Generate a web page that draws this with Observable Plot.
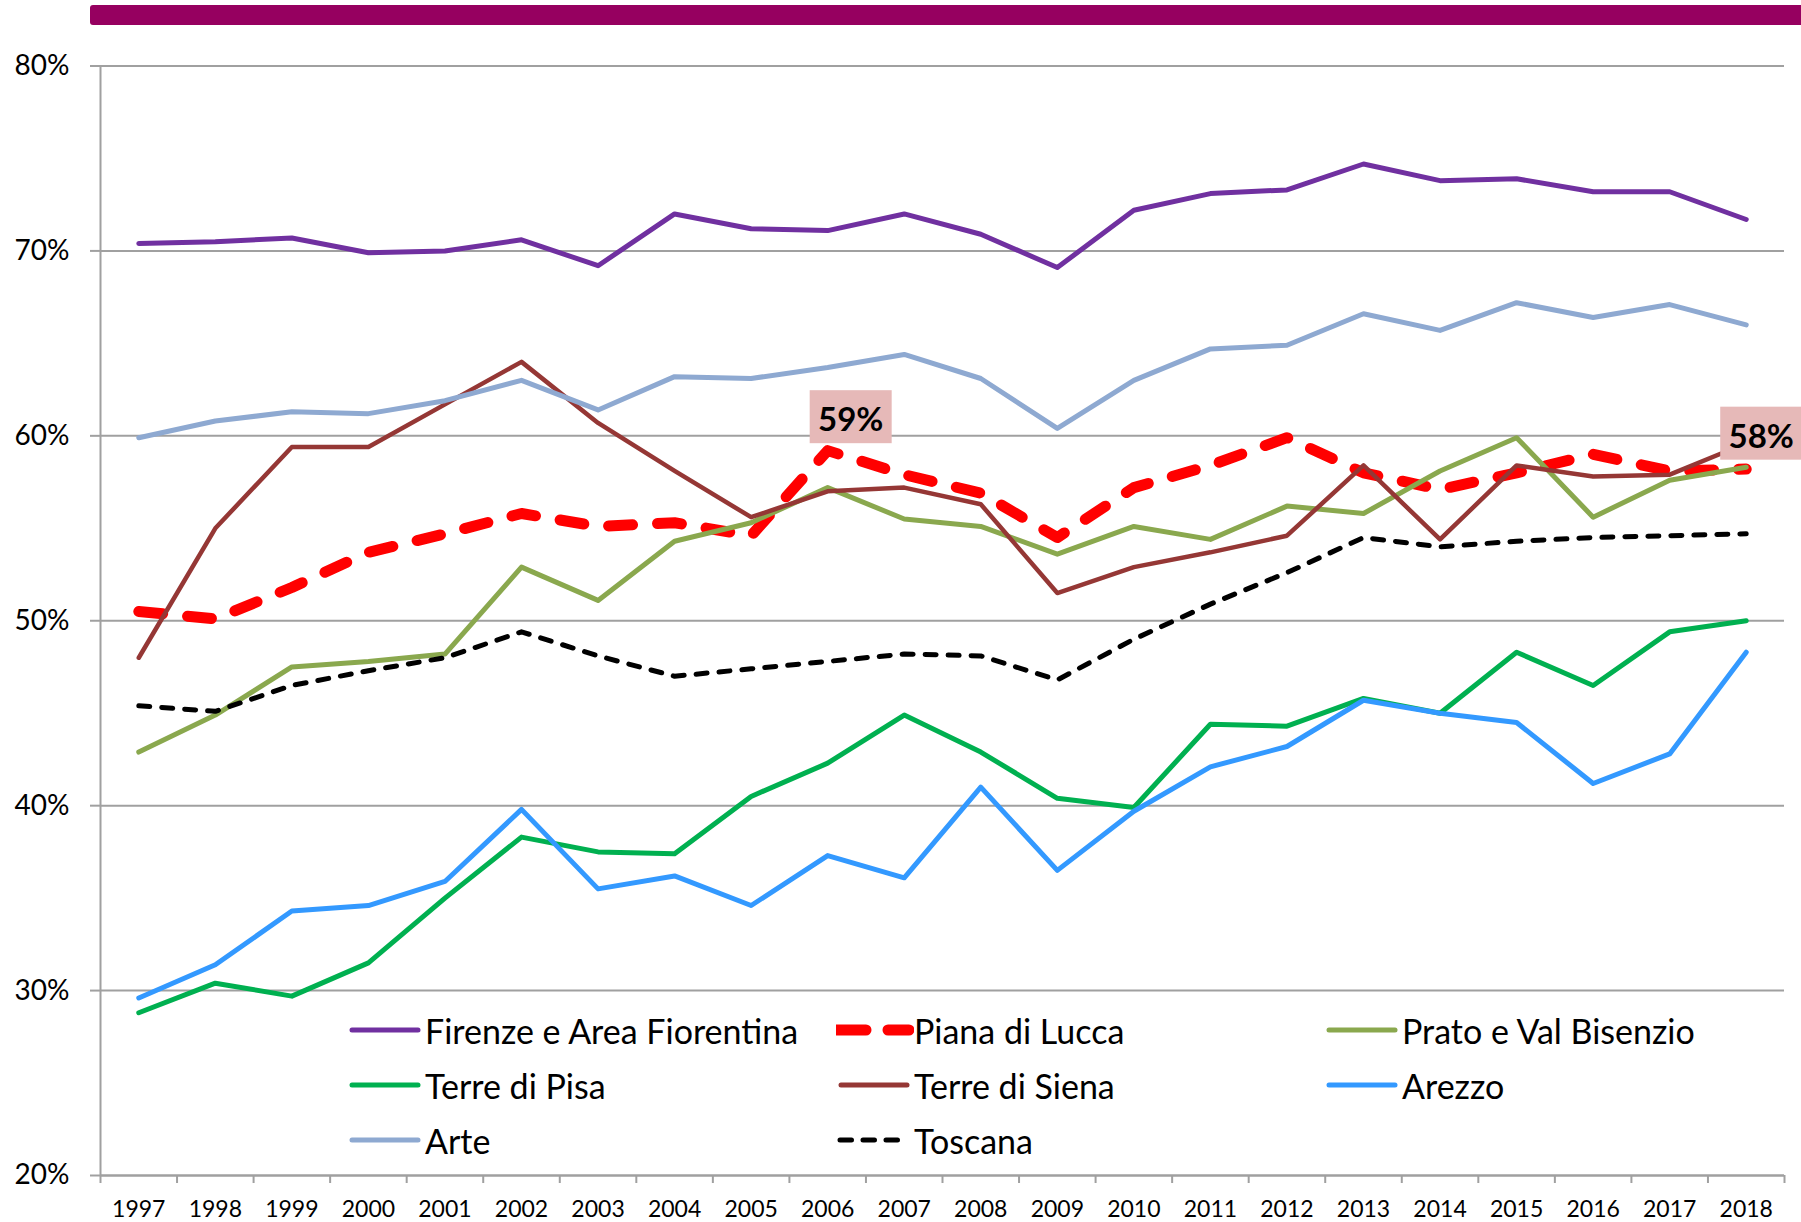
<!DOCTYPE html>
<html><head><meta charset="utf-8">
<script src="https://cdn.jsdelivr.net/npm/d3@7"></script>
<script src="https://cdn.jsdelivr.net/npm/@observablehq/plot@0.6"></script>
<style>
body{margin:0;background:#fff;font-family:Lato, sans-serif;}
#wrap{position:relative;width:1801px;height:1222px;overflow:hidden;background:#fff;}
#chart{position:absolute;left:0;top:0;}
#bar{position:absolute;left:90px;top:5px;width:1730px;height:20px;background:#960060;border-radius:3px;}
.item{position:absolute;display:flex;align-items:center;height:44px;font-size:34px;color:#000;white-space:nowrap;font-family:Lato, sans-serif;}
.item svg{flex:none;}
</style></head><body>
<div id="wrap"><div id="chart"></div><div id="bar"></div><div id="legend"></div></div>
<script>
const years = [1997,1998,1999,2000,2001,2002,2003,2004,2005,2006,2007,2008,2009,2010,2011,2012,2013,2014,2015,2016,2017,2018];
const firenze = [70.4,70.5,70.7,69.9,70.0,70.6,69.2,72.0,71.2,71.1,72.0,70.9,69.1,72.2,73.1,73.3,74.7,73.8,73.9,73.2,73.2,71.7];
const piana   = [50.5,50.1,51.8,53.7,54.7,55.8,55.1,55.3,54.6,59.2,57.9,56.9,54.5,57.2,58.4,59.9,58.0,57.1,58.0,59.0,58.1,58.2];
const prato   = [42.9,44.9,47.5,47.8,48.2,52.9,51.1,54.3,55.3,57.2,55.5,55.1,53.6,55.1,54.4,56.2,55.8,58.1,59.9,55.6,57.6,58.3];
const pisa    = [28.8,30.4,29.7,31.5,35.0,38.3,37.5,37.4,40.5,42.3,44.9,42.9,40.4,39.9,44.4,44.3,45.8,45.0,48.3,46.5,49.4,50.0];
const siena   = [48.0,55.0,59.4,59.4,61.7,64.0,60.7,58.1,55.6,57.0,57.2,56.3,51.5,52.9,53.7,54.6,58.4,54.4,58.4,57.8,57.9,59.6];
const arezzo  = [29.6,31.4,34.3,34.6,35.9,39.8,35.5,36.2,34.6,37.3,36.1,41.0,36.5,39.7,42.1,43.2,45.7,45.0,44.5,41.2,42.8,48.3];
const arte    = [59.9,60.8,61.3,61.2,61.9,63.0,61.4,63.2,63.1,63.7,64.4,63.1,60.4,63.0,64.7,64.9,66.6,65.7,67.2,66.4,67.1,66.0];
const toscana = [45.4,45.1,46.5,47.3,48.0,49.4,48.1,47.0,47.4,47.8,48.2,48.1,46.8,49.0,50.9,52.6,54.5,54.0,54.3,54.5,54.6,54.7];

const seriesNames = ["Firenze e Area Fiorentina","Piana di Lucca","Prato e Val Bisenzio","Terre di Pisa","Terre di Siena","Arezzo","Arte","Toscana"];
const seriesValues = [firenze, piana, prato, pisa, siena, arezzo, arte, toscana];
const yTicks = [20,30,40,50,60,70,80];
const labelYears = [2006, 2018];
const labelTexts = ["59%", "58%"];

const styles = {
  "Firenze e Area Fiorentina": {color:"#7030A0", width:5, dash:null},
  "Piana di Lucca": {color:"#FF0000", width:11, dash:"24,25"},
  "Prato e Val Bisenzio": {color:"#8AA84E", width:5, dash:null},
  "Terre di Pisa": {color:"#00B050", width:5, dash:null},
  "Terre di Siena": {color:"#953735", width:4.5, dash:null},
  "Arezzo": {color:"#3399FF", width:5, dash:null},
  "Arte": {color:"#8EA9D1", width:5, dash:null},
  "Toscana": {color:"#000000", width:5, dash:"11,12"}
};

const table = seriesNames.flatMap((name, i) => years.map((year, j) => ({series:name, year, value:seriesValues[i][j]})));
const annots = labelYears.map((yr, i) => ({year:yr, value:piana[years.indexOf(yr)], label:labelTexts[i]}));
const bounds = [years[0] - 0.5, ...years.map(y => y + 0.5)];
const gridColor = "#A0A0A0";

const lineMarks = seriesNames.map(name => Plot.line(table.filter(d => d.series === name), {
  x:"year", y:"value", stroke: styles[name].color, strokeWidth: styles[name].width,
  strokeDasharray: styles[name].dash || undefined, strokeLinecap:"round", strokeLinejoin:"round"
}));

const plot = Plot.plot({
  width:1801, height:1222,
  marginLeft:100, marginRight:17, marginTop:65.5, marginBottom:47,
  x:{domain:[bounds[0], bounds[bounds.length-1]], axis:null},
  y:{domain:[20,80], axis:null},
  style:{fontFamily:"Lato, sans-serif", background:"transparent", overflow:"visible"},
  marks:[
    Plot.gridY(yTicks, {stroke:gridColor, strokeOpacity:1, strokeWidth:2}),
    Plot.ruleX([bounds[0]], {stroke:gridColor, strokeWidth:2}),
    Plot.ruleY([20], {stroke:gridColor, strokeWidth:2}),
    Plot.axisY({ticks:yTicks, tickSize:10, tickFormat:() => "", label:null, stroke:gridColor, strokeWidth:2, strokeOpacity:1}),
    Plot.axisY({ticks:yTicks, tickSize:0, tickPadding:31, tickFormat:d => d + "%", label:null, fontSize:28, fill:"#000"}),
    Plot.axisX({ticks:bounds, tickSize:8, tickFormat:() => "", label:null, stroke:gridColor, strokeWidth:2, strokeOpacity:1}),
    Plot.axisX({ticks:years, tickSize:0, tickPadding:25, tickFormat:d => String(d), label:null, fontSize:23, fill:"#000"}),
    ...lineMarks,
    Plot.text(annots.slice(0,1), {x:"year", y:"value", text:"label", dx:23, dy:-30, fontSize:33, fontWeight:"bold", fill:"#000"}),
    Plot.text(annots.slice(1,2), {x:"year", y:"value", text:"label", dx:15, dy:-32, fontSize:33, fontWeight:"bold", fill:"#000"})
  ]
});
document.getElementById("chart").appendChild(plot);

// label background boxes
plot.querySelectorAll('g[aria-label="text"] text').forEach(t => {
  if (!labelTexts.includes(t.textContent)) return;
  const b = t.getBBox();
  const cx = b.x + b.width/2, cy = b.y + b.height/2;
  const r = document.createElementNS("http://www.w3.org/2000/svg", "rect");
  r.setAttribute("x", cx - 41); r.setAttribute("y", cy - 28);
  r.setAttribute("width", 82); r.setAttribute("height", 53);
  r.setAttribute("fill", "#E6B9B8");
  if (t.getAttribute("transform")) r.setAttribute("transform", t.getAttribute("transform"));
  t.parentNode.insertBefore(r, t);
});

// legend
const legendCols = [347, 836, 1324];
const legendRows = [1030, 1085, 1140];
const legend = document.getElementById("legend");
seriesNames.forEach((name, i) => {
  const s = styles[name];
  const div = document.createElement("div");
  div.className = "item";
  div.style.left = legendCols[i % 3] + "px";
  div.style.top = (legendRows[Math.floor(i / 3)] - 22) + "px";
  const sw = Math.max(s.width, 5);
  const dashAttr = s.dash ? (name === "Piana di Lucca" ? `stroke-dasharray="31,22"` : `stroke-dasharray="11.5,11.5"`) : "";
  const x1 = s.dash ? (name === "Piana di Lucca" ? -1 : 4) : 5;
  const x2 = s.dash ? (name === "Piana di Lucca" ? 73 : 66) : 71;
  div.innerHTML = `<svg width="78" height="44"><line x1="${x1}" x2="${x2}" y1="22" y2="22" stroke="${s.color}" stroke-width="${sw}" stroke-linecap="round" ${dashAttr}/></svg><span>${name}</span>`;
  legend.appendChild(div);
});
</script>
</body></html>
